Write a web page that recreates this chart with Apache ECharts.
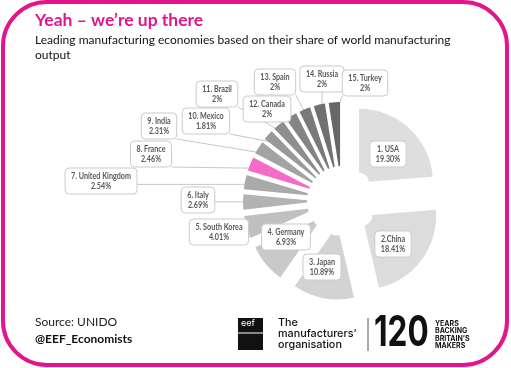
<!DOCTYPE html>
<html>
<head>
<meta charset="utf-8">
<script src="https://cdn.jsdelivr.net/npm/echarts@6/dist/echarts.min.js"></script>
<style>
html,body{margin:0;padding:0;background:#fff;}
#chart{width:511px;height:368px;}
</style>
</head>
<body>
<div id="chart"></div>
<script>
// ---- data ----
const countries = ['1. USA','2.China','3. Japan','4. Germany','5. South Korea','6. Italy','7. United Kingdom','8. France','9. India','10. Mexico','11. Brazil','12. Canada','13. Spain','14. Russia','15. Turkey'];
const shares = [19.30, 18.41, 10.89, 6.93, 4.01, 2.69, 2.54, 2.46, 2.31, 1.81, 2, 2, 2, 2, 2];
const shareLabels = ['19.30%','18.41%','10.89%','6.93%','4.01%','2.69%','2.54%','2.46%','2.31%','1.81%','2%','2%','2%','2%','2%'];

// ---- layout / style (not data) ----
const sliceColors = ['#dedede','#dcdcdc','#d3d3d3','#c9c9c9','#c0c0c0','#b3b3b3','#aaaaaa','#f56cc8','#a3a3a3','#999999','#8e8e8e','#848484','#7a7a7a','#707070','#676767'];
const insideCount = 4;
const labelCenters = [[388,154],[393,244],[322,267],[286,237],[219,232],[198,200],[101,181],[151,154],[159,126],[206,121],[217,94],[267,109],[275,82],[322,79],[365,83]];
const PIE_C = [342, 201], R_IN = 10, R_OUT = 74, OFFSET = 25, ANCHOR_R = 62;
const LABEL_FONT = 'bold 9px Lato', SX = 0.8, LH = 10, PADX = 6, PADY = 3;

const PINK = '#e2168c';
const chart = echarts.init(document.getElementById('chart'), null, {renderer:'canvas'});

// slice geometry derived from the data (same rule the pie uses: clockwise from 12 o'clock)
const total = shares.reduce((a, b) => a + b, 0);
let acc = 0;
const midAngles = shares.map(v => { const m = (acc + v / 2) / total * 2 * Math.PI; acc += v; return m; });

const mctx = document.createElement('canvas').getContext('2d');
mctx.font = LABEL_FONT;
const tw = s => mctx.measureText(s).width;

function boxOf(i) {
  const c = labelCenters[i];
  const w = Math.max(tw(countries[i]), tw(shareLabels[i])) * SX + 2 * PADX;
  const h = 2 * LH + 2 * PADY;
  return { x: c[0] - w / 2, y: c[1] - h / 2, w, h, cx: c[0], cy: c[1] };
}

const data = countries.map((c, i) => ({
  name: c, value: shares[i], selected: true,
  itemStyle: { color: sliceColors[i] }
}));

chart.setOption({
  animation: false,
  graphic: [
    { type:'rect', z:-10, shape:{x:3, y:2, width:504, height:363, r:44}, style:{fill:'#fff', stroke:PINK, lineWidth:4} },
    { type:'text', left:35, top:11, style:{text:'Yeah \u2013 we\u2019re up there', font:'bold 17.5px Lato', fill:PINK} },
    { type:'text', left:35, top:33, style:{text:'Leading manufacturing economies based on their share of world manufacturing\noutput', font:'12px Lato', fill:'#111', lineHeight:15} },
    { type:'text', left:35, top:316, style:{text:'Source: UNIDO', font:'12px Lato', fill:'#222'} },
    { type:'text', left:35, top:333, style:{text:'@EEF_Economists', font:'bold 12px Lato', fill:'#111'} },
    // logo
    { type:'rect', shape:{x:238, y:318, width:25, height:32}, style:{fill:'#111'} },
    { type:'line', shape:{x1:238, y1:333, x2:263, y2:333}, style:{stroke:'#fff', lineWidth:1} },
    { type:'text', x:241, y:319, style:{text:'eef', font:'9px Inter', fill:'#fff'} },
    { type:'text', x:278, y:317, style:{text:'The\nmanufacturers\u2019\norganisation', font:'500 10.8px Inter', fill:'#111', lineHeight:11} },
    { type:'line', shape:{x1:368, y1:318, x2:368, y2:351}, style:{stroke:'#555', lineWidth:1} },
    { type:'text', x:374, y:312, scaleX:0.75, style:{text:'120', font:'bold 42px Inter', fill:'#111'} },
    { type:'text', x:435, y:320, style:{text:'YEARS\nBACKING\nBRITAIN\u2019S\nMAKERS', font:'bold 7px Inter', fill:'#111', lineHeight:7.5} }
  ],
  series: [
    {
      // leader lines, drawn beneath the slices
      type: 'custom', coordinateSystem: 'none', z: 1, silent: true,
      data: shares.map((v, i) => [i]),
      renderItem: (params) => {
        const i = params.dataIndex;
        if (i < insideCount) return null;
        const a = midAngles[i], s = Math.sin(a), c = -Math.cos(a);
        const ax = PIE_C[0] + (OFFSET + ANCHOR_R) * s, ay = PIE_C[1] + (OFFSET + ANCHOR_R) * c;
        const b = boxOf(i);
        const tx = Math.min(Math.max(ax, b.x), b.x + b.w), ty = Math.min(Math.max(ay, b.y), b.y + b.h);
        return { type: 'line', shape: { x1: tx, y1: ty, x2: ax, y2: ay }, style: { stroke: '#c8c8c8', lineWidth: 1 } };
      }
    },
    {
      type: 'pie',
      z: 2,
      center: PIE_C,
      radius: [R_IN, R_OUT],
      startAngle: 90,
      clockwise: true,
      selectedMode: 'multiple',
      selectedOffset: OFFSET,
      emphasis: { disabled: true },
      label: { show: false },
      labelLine: { show: false },
      data: data
    },
    {
      // label boxes
      type: 'custom', coordinateSystem: 'none', z: 5, silent: true,
      data: shares.map((v, i) => [i]),
      renderItem: (params) => {
        const i = params.dataIndex;
        const b = boxOf(i);
        return {
          type: 'group',
          children: [
            { type: 'rect', shape: { x: b.x, y: b.y, width: b.w, height: b.h, r: 4 }, style: { fill: '#fff', stroke: '#cbcbcb', lineWidth: 1 } },
            { type: 'text', x: b.cx, y: b.cy + 0.5, scaleX: SX,
              style: { text: countries[i] + '\n' + shareLabels[i], font: LABEL_FONT, fill: '#595959', align: 'center', verticalAlign: 'middle', lineHeight: LH } }
          ]
        };
      }
    }
  ]
});
</script>
</body>
</html>
